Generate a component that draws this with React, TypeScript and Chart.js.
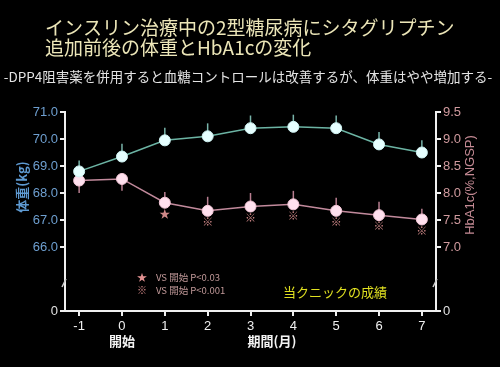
import React, { useEffect, useRef } from "react";
import { Chart, registerables } from "chart.js";

Chart.register(...registerables);

const months = [-1, 0, 1, 2, 3, 4, 5, 6, 7];
const weight = [68.8, 69.35, 69.95, 70.1, 70.4, 70.45, 70.4, 69.8, 69.5];
const weightErrUp = [0.4, 0.47, 0.47, 0.48, 0.47, 0.45, 0.47, 0.46, 0.45];
const hba1c = [8.23, 8.26, 7.82, 7.67, 7.75, 7.79, 7.67, 7.59, 7.51];
const hbaErrUp = [0, 0, 0.2, 0.26, 0.25, 0.25, 0.24, 0.25, 0.2];
const hbaErrDown = [0.23, 0.22, 0, 0, 0, 0, 0, 0, 0];
const sigMarks = ["", "", "★", "※", "※", "※", "※", "※", "※"];
const weightTicks = [66, 67, 68, 69, 70, 71];
const hbaTicks = [7.0, 7.5, 8.0, 8.5, 9.0, 9.5];
const weightMin = 63.63;
const hbaMin = 5.815;

const titleLines = ["インスリン治療中の2型糖尿病にシタグリプチン", "追加前後の体重とHbA1cの変化"];
const subtitle = "-DPP4阻害薬を併用すると血糖コントロールは改善するが、体重はやや増加する-";
const legendLines = [
  { mark: "★", text: "VS 開始 P<0.03" },
  { mark: "※", text: "VS 開始 P<0.001" },
];
const clinicNote = "当クニックの成績";
const startLabel = "開始";
const xTitle = "期間(月)";
const yLeftTitle = "体重(kg)";
const yRightTitle = "HbA1c(%,NGSP)";

const JP = '"Noto Sans CJK JP", sans-serif';
const LAT = '"Liberation Sans", Arial, sans-serif';

export default function App() {
  const ref = useRef<HTMLCanvasElement | null>(null);

  useEffect(() => {
    document.body.style.margin = "0";
    const canvas = ref.current!;
    const near = (a: number, b: number) => Math.abs(a - b) < 1e-6;

    const decor = {
      id: "decor",
      beforeDraw(chart: any) {
        const c = chart.ctx;
        c.save();
        c.fillStyle = "#000";
        c.fillRect(0, 0, chart.width, chart.height);
        c.restore();
      },
      beforeDatasetsDraw(chart: any) {
        const c = chart.ctx;
        const xs = chart.scales.x;
        const yl = chart.scales.yW;
        const yr = chart.scales.yH;
        c.save();
        c.lineWidth = 1.5;
        c.strokeStyle = "#78b4aa";
        months.forEach((m, i) => {
          const px = xs.getPixelForValue(m);
          c.beginPath();
          c.moveTo(px, yl.getPixelForValue(weight[i]));
          c.lineTo(px, yl.getPixelForValue(weight[i] + weightErrUp[i]));
          c.stroke();
        });
        c.strokeStyle = "#b87e90";
        months.forEach((m, i) => {
          const px = xs.getPixelForValue(m);
          c.beginPath();
          c.moveTo(px, yr.getPixelForValue(hba1c[i] - hbaErrDown[i]));
          c.lineTo(px, yr.getPixelForValue(hba1c[i] + hbaErrUp[i]));
          c.stroke();
        });
        c.restore();
      },
      afterDraw(chart: any) {
        const c = chart.ctx;
        const xs = chart.scales.x;
        const yr = chart.scales.yH;
        const area = chart.chartArea;
        c.save();
        c.fillStyle = "#ece6b8";
        c.font = `19px ${JP}`;
        c.textAlign = "left";
        c.textBaseline = "middle";
        c.fillText(titleLines[0], 45, 28);
        c.fillText(titleLines[1], 45, 48);
        c.fillStyle = "#e4e4e4";
        c.font = `13.5px ${JP}`;
        c.textAlign = "center";
        c.fillText(subtitle, 248, 77);
        c.font = `11px ${JP}`;
        c.fillStyle = "#d08888";
        months.forEach((m, i) => {
          if (!sigMarks[i]) return;
          c.fillText(sigMarks[i], xs.getPixelForValue(m), yr.getPixelForValue(hba1c[i]) + 11);
        });
        legendLines.forEach((l, i) => {
          const y = 277 + i * 13;
          c.textAlign = "center";
          c.fillStyle = "#e09090";
          c.font = `10px ${JP}`;
          c.fillText(l.mark, 142, y);
          c.textAlign = "left";
          c.fillStyle = "#c09898";
          c.font = `9.5px ${JP}`;
          c.fillText(l.text, 156, y);
        });
        c.fillStyle = "#e0e020";
        c.font = `13px ${JP}`;
        c.textAlign = "left";
        c.fillText(clinicNote, 283, 292);
        c.fillStyle = "#f4f4f4";
        c.font = `bold 13px ${JP}`;
        c.textAlign = "center";
        c.fillText(startLabel, xs.getPixelForValue(0), 341);
        c.fillText(xTitle, 272, 341);
        c.save();
        c.translate(22, 187);
        c.rotate(-Math.PI / 2);
        c.fillStyle = "#5e9ad2";
        c.font = `bold 13px ${JP}`;
        c.fillText(yLeftTitle, 0, 0);
        c.restore();
        c.save();
        c.translate(470, 185);
        c.rotate(-Math.PI / 2);
        c.fillStyle = "#c48a94";
        c.font = `13px ${LAT}`;
        c.fillText(yRightTitle, 0, 0);
        c.restore();
        c.strokeStyle = "#cccccc";
        c.lineWidth = 1.5;
        [area.left, area.right].forEach((x) => {
          c.beginPath();
          c.moveTo(x - 3, 287);
          c.lineTo(x + 1, 279);
          c.stroke();
        });
        c.restore();
      },
    };

    const chart = new Chart(canvas, {
      type: "line",
      data: {
        datasets: [
          {
            label: "体重",
            data: months.map((m, i) => ({ x: m, y: weight[i] })),
            yAxisID: "yW",
            borderColor: "#6cb4a4",
            borderWidth: 1.5,
            pointBackgroundColor: "#e6ffff",
            pointBorderColor: "#d0f4f4",
            pointRadius: 5.5,
            pointBorderWidth: 1,
          },
          {
            label: "HbA1c",
            data: months.map((m, i) => ({ x: m, y: hba1c[i] })),
            yAxisID: "yH",
            borderColor: "#c28a9c",
            borderWidth: 1.5,
            pointBackgroundColor: "#ffe0ee",
            pointBorderColor: "#f4c8d8",
            pointRadius: 5.5,
            pointBorderWidth: 1,
          },
        ],
      },
      options: {
        responsive: false,
        animation: false,
        layout: { padding: { top: 112, left: 0, right: 0, bottom: 0 } },
        plugins: { legend: { display: false }, tooltip: { enabled: false }, title: { display: false } },
        scales: {
          x: {
            type: "linear",
            min: -1.33,
            max: 7.33,
            afterBuildTicks: (s: any) => {
              s.ticks = months.map((v) => ({ value: v }));
            },
            afterFit: (s: any) => {
              s.height = 56;
            },
            border: { color: "#f0f0f0", width: 2 },
            grid: { drawOnChartArea: false, drawTicks: true, tickLength: 5, color: "#f0f0f0", lineWidth: 2 },
            ticks: {
              color: "#f0f0f0",
              font: { family: LAT, size: 13 },
              padding: 3,
              maxRotation: 0,
              callback: (v: any) => String(v),
            },
          },
          yW: {
            type: "linear",
            position: "left",
            min: weightMin,
            max: 71,
            afterBuildTicks: (s: any) => {
              s.ticks = [weightMin, ...weightTicks].map((v) => ({ value: v }));
            },
            afterFit: (s: any) => {
              s.width = 65;
            },
            border: { color: "#f0f0f0", width: 2 },
            grid: { drawOnChartArea: false, drawTicks: true, tickLength: 5, color: "#f0f0f0", lineWidth: 2 },
            ticks: {
              color: (ctx: any) => (ctx.tick && near(ctx.tick.value, weightMin) ? "#e0e0e0" : "#6e9fd0"),
              font: { family: LAT, size: 13 },
              padding: 2,
              callback: (v: any) => (near(v, weightMin) ? "0" : Number(v).toFixed(1)),
            },
          },
          yH: {
            type: "linear",
            position: "right",
            min: hbaMin,
            max: 9.5,
            afterBuildTicks: (s: any) => {
              s.ticks = [hbaMin, ...hbaTicks].map((v) => ({ value: v }));
            },
            afterFit: (s: any) => {
              s.width = 64;
            },
            border: { color: "#f0f0f0", width: 2 },
            grid: { drawOnChartArea: false, drawTicks: true, tickLength: 5, color: "#f0f0f0", lineWidth: 2 },
            ticks: {
              color: (ctx: any) => (ctx.tick && near(ctx.tick.value, hbaMin) ? "#e0e0e0" : "#d09a9e"),
              font: { family: LAT, size: 13 },
              padding: 2,
              callback: (v: any) => (near(v, hbaMin) ? "0" : Number(v).toFixed(1)),
            },
          },
        },
      },
      plugins: [decor],
    } as any);

    return () => chart.destroy();
  }, []);

  return (
    <div style={{ position: "fixed", left: 0, top: 0, width: 500, height: 367, background: "#000" }}>
      <canvas ref={ref} width={500} height={367} style={{ display: "block" }} />
    </div>
  );
}
